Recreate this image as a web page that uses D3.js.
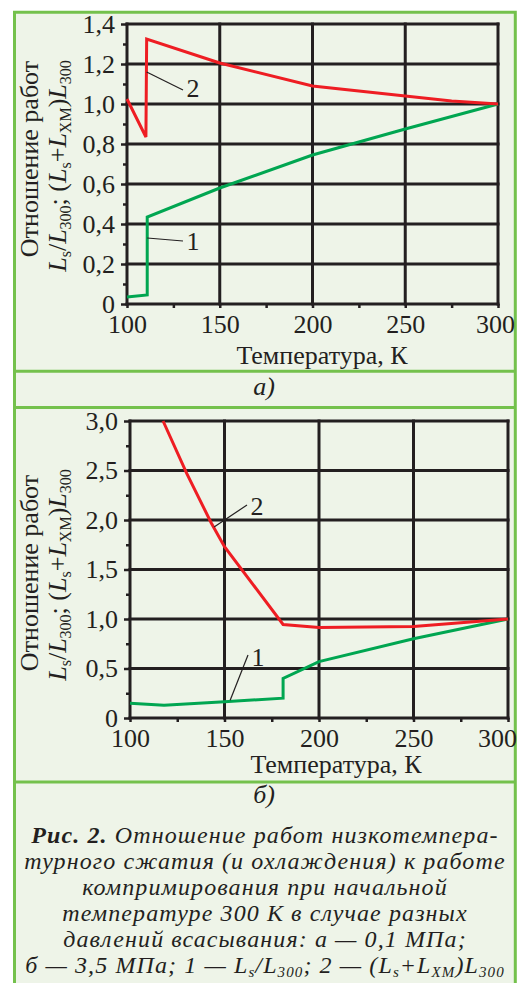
<!DOCTYPE html>
<meta charset="utf-8">
<style>
body { margin: 0; background: #fff; }
svg text { font-family: "Liberation Serif", serif; fill: #231f20; }
.grid line { stroke: #231f20; stroke-width: 3; stroke-linecap: square; }
.axis path { display: none; }
.axis line { stroke: #231f20; stroke-width: 2.5; }
.axis text { font-family: "Liberation Serif", serif; font-size: 26px; fill: #231f20; }
.curve { fill: none; stroke-width: 3; stroke-linejoin: miter; }
.leader { stroke: #231f20; stroke-width: 1.2; }
.frame { stroke: #74c14c; stroke-width: 3; fill: none; }
</style>
<body>
<svg width="517" height="983"></svg>
<script src="https://d3js.org/d3.v7.min.js"></script>
<script>

// ---- panel а) : 0,1 МПа ----
var tempA1  = [100, 110.9, 110.9, 150, 200, 250, 300];          // curve 1, Ls/L300
var ratioA1 = [0.035, 0.045, 0.435, 0.58, 0.745, 0.875, 1.0];
var tempA2  = [100, 110.2, 110.6, 150, 200, 250, 275, 300];     // curve 2, (Ls+Lxm)L300
var ratioA2 = [1.025, 0.835, 1.325, 1.205, 1.09, 1.04, 1.015, 1.0];
var yTicksA  = [0, 0.2, 0.4, 0.6, 0.8, 1.0, 1.2, 1.4];
var yLabelsA = ["0", "0,2", "0,4", "0,6", "0,8", "1,0", "1,2", "1,4"];
var yMinorA  = [0.1, 0.3, 0.5, 0.7, 0.9, 1.1, 1.3];

// ---- panel б) : 3,5 МПа ----
var tempB1  = [100, 118, 150, 181, 181, 200, 250, 300];
var ratioB1 = [0.15, 0.13, 0.165, 0.2, 0.4, 0.57, 0.8, 1.0];
var tempB2  = [117.5, 130, 143, 150, 181, 200, 250, 300];
var ratioB2 = [3.0, 2.47, 1.97, 1.73, 0.945, 0.915, 0.925, 1.0];
var yTicksB  = [0, 0.5, 1.0, 1.5, 2.0, 2.5, 3.0];
var yLabelsB = ["0", "0,5", "1,0", "1,5", "2,0", "2,5", "3,0"];
var yMinorB  = [0.25, 0.75, 1.25, 1.75, 2.25, 2.75];

// shared x axis
var xTicks  = [100, 150, 200, 250, 300];
var xLabels = ["100", "150", "200", "250", "300"];
var xMinor  = [125, 175, 225, 275];

var red = "#ee1d23", green = "#00a651";

var svg = d3.select("svg");

// background frame with green rules
svg.append("rect")
    .attr("x", 14.5).attr("y", 12.2).attr("width", 501).attr("height", 990)
    .attr("fill", "#eef4e8");
svg.append("path").attr("class", "frame")
    .attr("d", "M14.5,990 V12.2 H515.3 V990");
[371.3, 407.5, 782].forEach(function(yy) {
  svg.append("line").attr("class", "frame")
      .attr("x1", 14.5).attr("x2", 515.3).attr("y1", yy).attr("y2", yy);
});

// helper: text with italic letters and subscripts
// sub: lowered + smaller, back: return to baseline
function rich(sel, parts, subSize, shift) {
  parts.forEach(function(p) {
    var t = sel.append("tspan").text(p.t);
    if (p.i) t.attr("font-style", "italic");
    if (p.b) t.attr("font-weight", "bold");
    if (p.sub) t.attr("font-size", subSize).attr("dy", shift);
    if (p.back) t.attr("dy", -shift);
  });
}

var yTitleParts = [
  {t: "L", i: 1}, {t: "s", sub: 1}, {t: "/", back: 1}, {t: "L", i: 1}, {t: "300", sub: 1},
  {t: "; (", back: 1}, {t: "L", i: 1}, {t: "s", sub: 1}, {t: "+", back: 1}, {t: "L", i: 1},
  {t: "XM", sub: 1}, {t: ")", back: 1}, {t: "L", i: 1}, {t: "300", sub: 1}
];

function drawPanel(c) {
  var x = d3.scaleLinear().domain([100, 300]).range(c.xr);
  var y = d3.scaleLinear().domain(c.yd).range(c.yr);
  var g = svg.append("g");

  // minor ticks
  g.append("g").attr("class", "axis")
      .attr("transform", "translate(" + c.xr[0] + ",0)")
      .call(d3.axisLeft(y).tickValues(c.yMinor).tickSize(4).tickFormat(""));
  g.append("g").attr("class", "axis")
      .attr("transform", "translate(0," + c.yr[0] + ")")
      .call(d3.axisBottom(x).tickValues(xMinor).tickSize(4).tickFormat(""));

  // major ticks + labels
  g.append("g").attr("class", "axis")
      .attr("transform", "translate(" + c.xr[0] + ",0)")
      .call(d3.axisLeft(y).tickValues(c.yTicks).tickSize(6).tickPadding(6)
        .tickFormat(function(d, i) { return c.yLabels[i]; }));
  var xa = g.append("g").attr("class", "axis")
      .attr("transform", "translate(0," + c.yr[0] + ")")
      .call(d3.axisBottom(x).tickValues(xTicks).tickSize(4).tickPadding(7)
        .tickFormat(function(d, i) { return xLabels[i]; }));
  // last label pulled in a little, as in the figure
  xa.selectAll(".tick text").filter(function(d) { return d === 300; })
      .attr("dx", c.lastShift);

  // grid (also forms the frame)
  var grid = g.append("g").attr("class", "grid");
  grid.selectAll(".h").data(c.yTicks).enter().append("line")
      .attr("x1", x(100)).attr("x2", x(300))
      .attr("y1", function(d) { return y(d); }).attr("y2", function(d) { return y(d); });
  grid.selectAll(".v").data(xTicks).enter().append("line")
      .attr("y1", y(c.yd[0])).attr("y2", y(c.yd[1]))
      .attr("x1", function(d) { return x(d); }).attr("x2", function(d) { return x(d); });

  // curves
  var line = d3.line().x(function(d) { return x(d[0]); }).y(function(d) { return y(d[1]); });
  g.append("path").attr("class", "curve").attr("stroke", green)
      .attr("d", line(d3.zip(c.t1, c.r1)));
  g.append("path").attr("class", "curve").attr("stroke", red)
      .attr("d", line(d3.zip(c.t2, c.r2)));

  // curve labels with leaders
  c.marks.forEach(function(m) {
    g.append("line").attr("class", "leader")
        .attr("x1", x(m.from[0])).attr("y1", y(m.from[1]))
        .attr("x2", m.to[0]).attr("y2", m.to[1]);
    g.append("text").attr("x", m.at[0]).attr("y", m.at[1])
        .attr("font-size", 26).attr("text-anchor", "middle").text(m.label);
  });

  // axis titles
  g.append("text")
      .attr("transform", "translate(38," + c.yt[0] + ") rotate(-90)")
      .attr("text-anchor", "middle").attr("font-size", 26)
      .text("Отношение работ");
  var t2 = g.append("text")
      .attr("transform", "translate(66," + c.yt[1] + ") rotate(-90)")
      .attr("text-anchor", "middle").attr("font-size", 26);
  rich(t2, yTitleParts, 16, 5);
  g.append("text").attr("x", c.xt[0]).attr("y", c.xt[1])
      .attr("text-anchor", "middle").attr("font-size", 26)
      .text("Температура, К");
  g.append("text").attr("x", 264).attr("y", c.sub[1])
      .attr("text-anchor", "middle").attr("font-size", 26).attr("font-style", "italic")
      .text(c.sub[0]);
}

drawPanel({
  xr: [127, 498], yr: [304, 24], yd: [0, 1.4],
  yTicks: yTicksA, yLabels: yLabelsA, yMinor: yMinorA, lastShift: -3,
  t1: tempA1, r1: ratioA1, t2: tempA2, r2: ratioA2,
  marks: [
    {label: "2", from: [110.6, 1.16], to: [183, 90], at: [193, 97]},
    {label: "1", from: [110.9, 0.33], to: [183, 241], at: [193, 250]}
  ],
  yt: [159, 166], xt: [322, 364], sub: ["а)", 395]
});

drawPanel({
  xr: [130, 508], yr: [718, 421], yd: [0, 3.0],
  yTicks: yTicksB, yLabels: yLabelsB, yMinor: yMinorB, lastShift: -11,
  t1: tempB1, r1: ratioB1, t2: tempB2, r2: ratioB2,
  marks: [
    {label: "2", from: [144.5, 1.93], to: [247, 505], at: [257, 515]},
    {label: "1", from: [153, 0.18], to: [248, 655], at: [258, 666]}
  ],
  yt: [573, 575], xt: [336, 773], sub: ["б)", 803]
});

// caption
var caption = [
  [{t: "Рис. 2.", b: 1}, {t: " Отношение работ низкотемпера-"}],
  [{t: "турного сжатия (и охлаждения) к работе"}],
  [{t: "компримирования при начальной"}],
  [{t: "температуре 300 К в случае разных"}],
  [{t: "давлений всасывания: а — 0,1 МПа;"}],
  [{t: "б — 3,5 МПа; 1 — L"}, {t: "s", sub: 1}, {t: "/L", back: 1}, {t: "300", sub: 1},
   {t: "; 2 — (L", back: 1}, {t: "s", sub: 1}, {t: "+L", back: 1}, {t: "XM", sub: 1},
   {t: ")L", back: 1}, {t: "300", sub: 1}]
];
var capBase = [843, 869, 895, 921, 947, 973];
caption.forEach(function(parts, i) {
  var t = svg.append("text").attr("x", 265).attr("y", capBase[i])
      .attr("text-anchor", "middle").attr("font-size", 24).attr("font-style", "italic")
      .attr("letter-spacing", 1.1);
  rich(t, parts, 15, 4);
});

</script>
</body>
